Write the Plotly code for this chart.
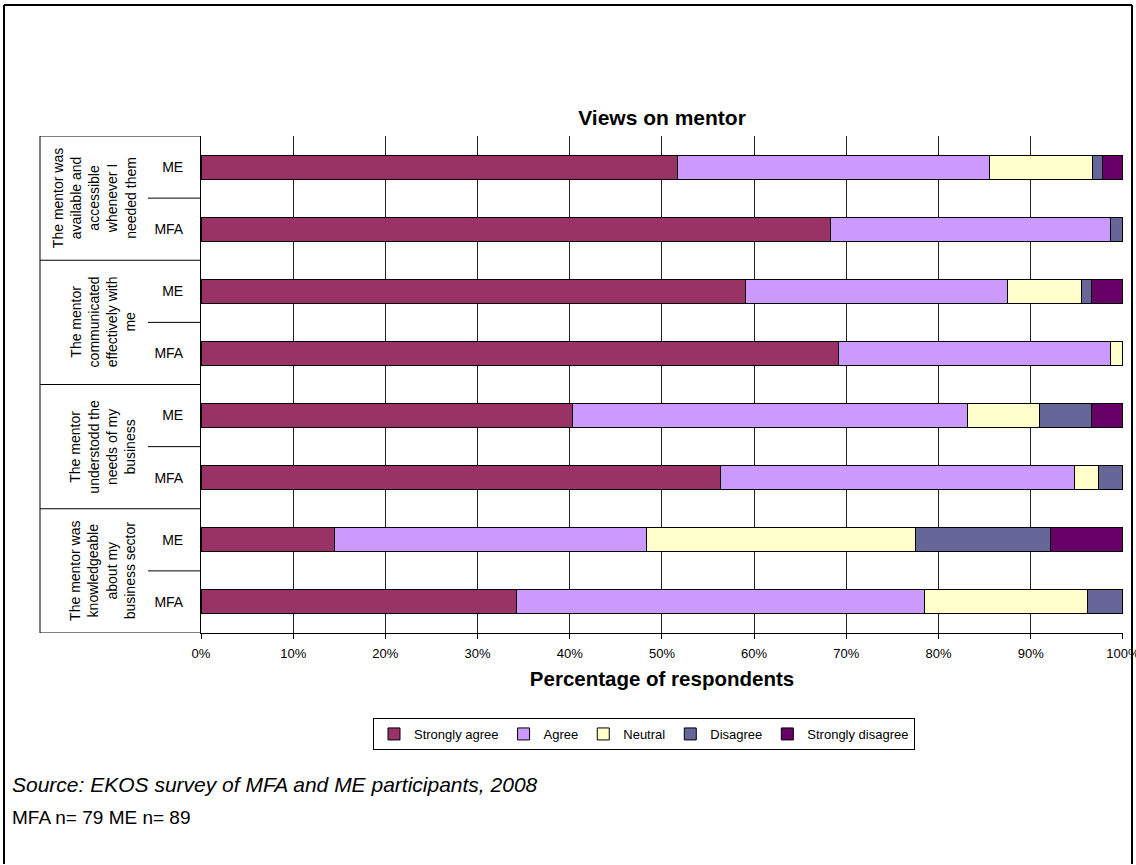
import plotly.graph_objects as go

# ---------------- data ----------------
series_names = ["Strongly agree", "Agree", "Neutral", "Disagree", "Strongly disagree"]
series_colors = ["#993366", "#CC99FF", "#FFFFCC", "#666699", "#660066"]

group_labels = [
    "The mentor was<br>available and<br>accessible<br>whenever I<br>needed them",
    "The mentor<br>communicated<br>effectively with<br>me",
    "The mentor<br>understodd the<br>needs of my<br>business",
    "The mentor was<br>knowledgeable<br>about my<br>business sector",
]

# rows in display order (top to bottom)
row_ids = ["g1-ME", "g1-MFA", "g2-ME", "g2-MFA", "g3-ME", "g3-MFA", "g4-ME", "g4-MFA"]
row_ticks = ["ME", "MFA", "ME", "MFA", "ME", "MFA", "ME", "MFA"]

strongly_agree = [51.7, 68.3, 59.1, 69.2, 40.3, 56.3, 14.5, 34.2]
agree = [33.8, 30.4, 28.4, 29.5, 42.8, 38.5, 33.8, 44.3]
neutral = [11.2, 0.0, 8.0, 1.3, 7.9, 2.6, 29.2, 17.7]
disagree = [1.1, 1.3, 1.1, 0.0, 5.6, 2.6, 14.6, 3.8]
strongly_disagree = [2.2, 0.0, 3.4, 0.0, 3.4, 0.0, 7.9, 0.0]

x_ticks = [0, 10, 20, 30, 40, 50, 60, 70, 80, 90, 100]
x_tick_labels = ["0%", "10%", "20%", "30%", "40%", "50%", "60%", "70%", "80%", "90%", "100%"]

title_text = "Views on mentor"
x_title = "Percentage of respondents"
source_text = "Source: EKOS survey of MFA and ME participants, 2008"
n_text = "MFA n= 79 ME n= 89"

# ---------------- layout geometry ----------------
W, H = 1136, 865
PL, PR, PT, PB = 201, 1123, 136, 633  # plot area in pixels


def px(x):
    return (x - PL) / (PR - PL)


def py(y):
    return (PB - y) / (PB - PT)


FONT = "Arial, Liberation Sans, sans-serif"

fig = go.Figure()
all_series = [strongly_agree, agree, neutral, disagree, strongly_disagree]
for name, color, vals in zip(series_names, series_colors, all_series):
    fig.add_trace(go.Bar(
        y=row_ids, x=vals, name=name, orientation="h",
        marker=dict(color=color, line=dict(color="black", width=1)),
    ))

shapes = []
frame = dict(color="black", width=2)
# outer chart frame (bottom edge lies outside the window)
shapes.append(dict(type="line", xref="paper", yref="paper", x0=px(4), x1=px(4),
                   y0=py(864), y1=py(5), line=frame, layer="above"))
shapes.append(dict(type="line", xref="paper", yref="paper", x0=px(1132), x1=px(1132),
                   y0=py(864), y1=py(5), line=frame, layer="above"))
shapes.append(dict(type="line", xref="paper", yref="paper", x0=px(4), x1=px(1132),
                   y0=py(5), y1=py(5), line=frame, layer="above"))
# left category box
shapes.append(dict(type="line", xref="paper", yref="y", x0=px(40), x1=px(40), y0=-0.5, y1=7.5,
                   line=dict(color="black", width=1)))
for yb in [-0.5, 1.5, 3.5, 5.5, 7.5]:
    shapes.append(dict(type="line", xref="paper", yref="y", x0=px(40), x1=0, y0=yb, y1=yb,
                       line=dict(color="black", width=1)))
for yb in [0.5, 2.5, 4.5, 6.5]:
    shapes.append(dict(type="line", xref="paper", yref="y", x0=px(148), x1=0, y0=yb, y1=yb,
                       line=dict(color="black", width=1)))

annotations = []
group_x = [94, 103, 103, 103]
for i, (lab, gx) in enumerate(zip(group_labels, group_x)):
    annotations.append(dict(text=lab, xref="paper", yref="y", x=px(gx), y=2 * i + 0.5,
                            textangle=-90, showarrow=False, align="center",
                            font=dict(size=14, family=FONT, color="black"),
                            xanchor="center", yanchor="middle"))
annotations.append(dict(text="<i>" + source_text + "</i>", xref="paper", yref="paper",
                        x=px(10), y=py(784), xanchor="left", yanchor="middle", showarrow=False,
                        font=dict(size=21, family=FONT, color="black")))
annotations.append(dict(text=n_text, xref="paper", yref="paper",
                        x=px(10), y=py(818), xanchor="left", yanchor="middle", showarrow=False,
                        font=dict(size=19, family=FONT, color="black")))

fig.update_layout(
    autosize=False,
    width=W, height=H,
    margin=dict(l=PL, r=W - PR, t=PT, b=H - PB, autoexpand=False),
    paper_bgcolor="white", plot_bgcolor="white",
    barmode="stack", bargap=0.613,
    font=dict(family=FONT, color="black", size=13),
    title=dict(text="<b>" + title_text + "</b>", x=0.5, xref="paper",
               y=1 - 118 / H, yref="container", yanchor="middle",
               font=dict(size=21, family=FONT, color="black")),
    xaxis=dict(range=[0, 100.01], tickvals=x_ticks, ticktext=x_tick_labels,
               showgrid=True, gridcolor="#222222", gridwidth=1,
               zeroline=False, showline=True, linecolor="black", linewidth=1,
               ticks="outside", ticklen=5, tickcolor="black", ticklabelstandoff=3,
               ticklabeloverflow="allow",
               tickfont=dict(size=13, family=FONT, color="black"),
               title=dict(text="<b>" + x_title + "</b>", standoff=12,
                          font=dict(size=20.5, family=FONT, color="black"))),
    yaxis=dict(categoryorder="array", categoryarray=row_ids, range=[7.5, -0.5],
               tickvals=row_ids, ticktext=row_ticks, ticks="", showgrid=False,
               zeroline=False, showline=True, linecolor="black", linewidth=1,
               ticklabelstandoff=14,
               tickfont=dict(size=14, family=FONT, color="black")),
    legend=dict(orientation="h", x=px(644), xanchor="center", y=py(718), yanchor="top",
                bordercolor="black", borderwidth=1, bgcolor="white",
                font=dict(size=13, family=FONT, color="black"), traceorder="normal"),
    shapes=shapes, annotations=annotations,
)

fig.write_html("out.html", config={"responsive": False})
